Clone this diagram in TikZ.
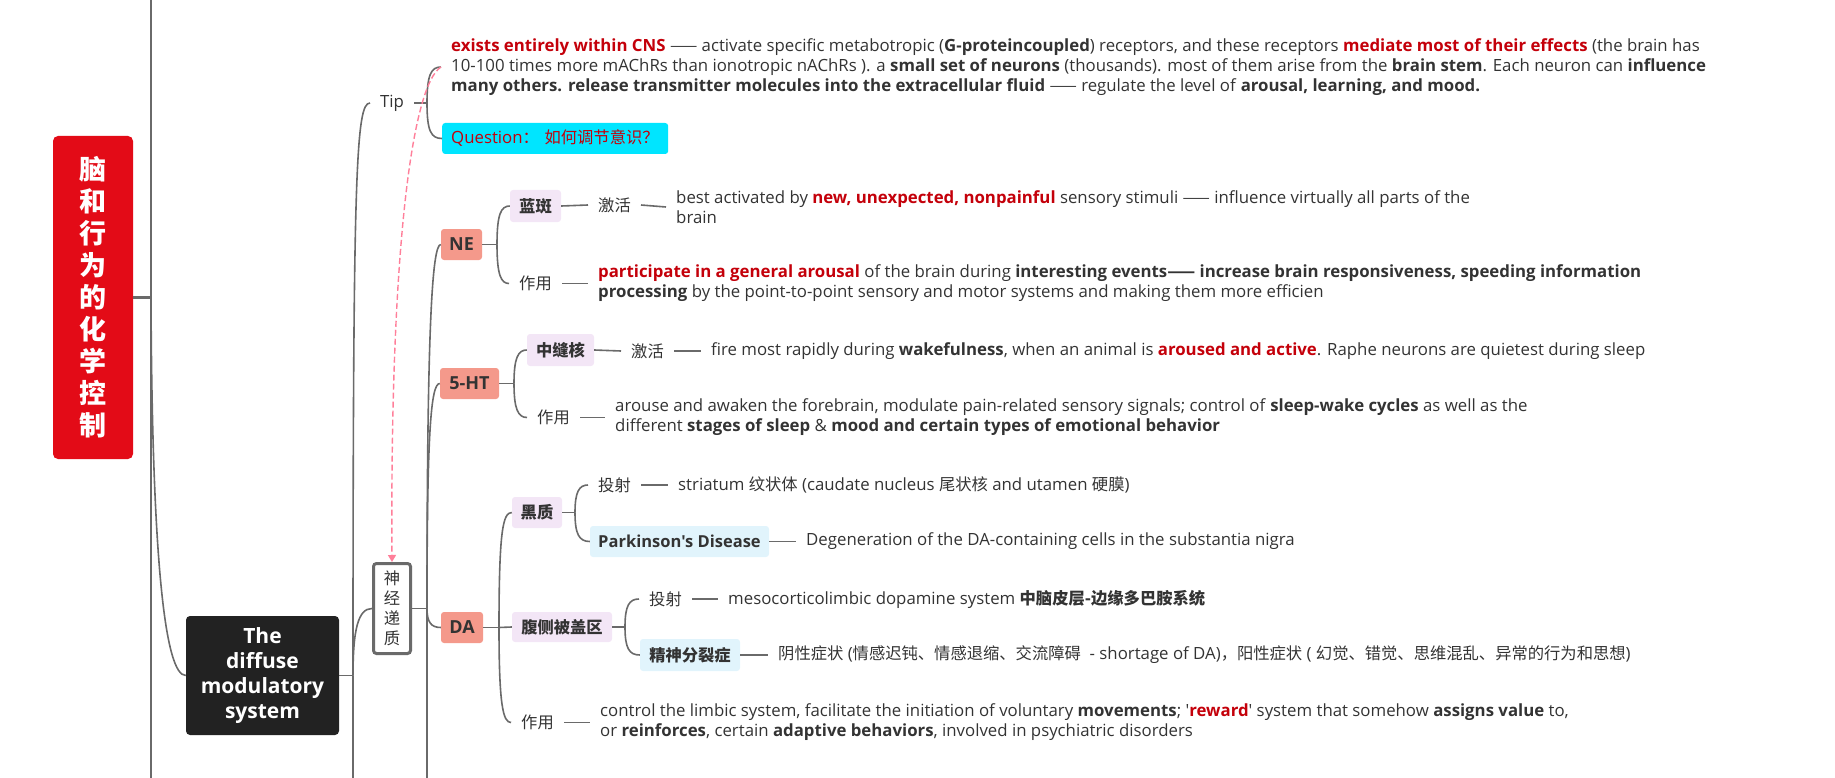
\documentclass[tikz,border=0pt]{standalone}
\usepackage{fontspec}
\newfontfamily\uifont{Open Sans}
\newfontfamily\cjk{Noto Sans CJK SC}
\usepackage{tikz}
\usetikzlibrary{arrows.meta}
\definecolor{linegray}{HTML}{6A6A6A}
\definecolor{textdark}{HTML}{333333}
\definecolor{markred}{HTML}{C4000A}
\definecolor{rootred}{HTML}{E30B17}
\definecolor{topicblack}{HTML}{222222}
\definecolor{salmon}{HTML}{F4998B}
\definecolor{lavender}{HTML}{F3E6F6}
\definecolor{paleblue}{HTML}{E1F4FC}
\definecolor{cyanbox}{HTML}{00E5FF}
\definecolor{pinkrel}{HTML}{FF7F9A}
\newcommand{\hlred}[1]{\textbf{\textcolor{markred}{#1}}}
\newcommand{\zh}[1]{{\cjk\fontsize{16.3}{20}\selectfont #1}}
\newcommand{\zhfont}{\cjk\fontsize{16.3}{20}\selectfont}

\tikzset{
  base/.style={inner sep=0pt, text=textdark, font=\uifont\fontsize{16.8}{20}\selectfont},
  lbl/.style={base, inner xsep=10pt, anchor=west},
  desc/.style={lbl, align=left},
  rootbox/.style={inner sep=0pt, fill=rootred, text=white, rounded corners=5pt, align=center,
    font=\cjk\bfseries\fontsize{27}{32}\selectfont},
  topicbox/.style={inner sep=0pt, fill=topicblack, text=white, rounded corners=4pt, align=center,
    font=\uifont\bfseries\fontsize{21}{25}\selectfont},
  ntbox/.style={base, draw=linegray, line width=3pt, rounded corners=3pt, align=center, fill=white},
  kindbox/.style={base, fill=salmon, rounded corners=3pt, minimum height=31pt,
    font=\uifont\bfseries\fontsize{18}{20}\selectfont},
  areabox/.style={base, fill=lavender, rounded corners=3pt, font=\cjk\bfseries\fontsize{16.3}{20}\selectfont},
  illbox/.style={base, fill=paleblue, rounded corners=3pt},
  link/.style={draw=linegray, line width=1.6pt},
  mainlink/.style={draw=linegray, line width=2.4pt},
  relline/.style={draw=pinkrel, line width=1.4pt, dash pattern=on 6pt off 3pt,
    -{Triangle[length=7pt,width=8pt]}}
}

\begin{document}
\begin{tikzpicture}[x=1pt, y=-1pt]
\useasboundingbox (0,0) rectangle (1835,778);

\node[rootbox, minimum width=80pt, minimum height=323pt] (root) at (93,297.5)
  {脑\\和\\行\\为\\的\\化\\学\\控\\制};
\node[topicbox, minimum width=153pt, minimum height=119pt] (topic) at (262.5,675.5)
  {The\\diffuse\\modulatory\\system};

\node[lbl] (tip) at (370,103) {Tip};
\node[desc] (tiptext) at (441,67) {\hlred{exists entirely within CNS} \zh{——} activate specific metabotropic (\textbf{G-proteincoupled}) receptors, and these receptors \hlred{mediate most of their effects} (the brain has\\
10-100 times more mAChRs than ionotropic nAChRs ). a \textbf{small set of neurons} (thousands). most of them arise from the \textbf{brain stem}. Each neuron can \textbf{influence}\\
\textbf{many others. release transmitter molecules into the extracellular fluid} \zh{——} regulate the level of \textbf{arousal, learning, and mood.}};
\node[base, fill=cyanbox, rounded corners=3pt, anchor=west, inner xsep=9pt, text width=208pt,
  minimum height=31pt, text=markred] (question) at (442,138.5) {Question\zh{：}\ \zh{如何调节意识？}};

\node[ntbox, minimum width=37pt, minimum height=90pt, font=\zhfont] (nt) at (392,608.5)
  {神\\经\\递\\质};

% NE
\node[kindbox, minimum width=41pt] (ne) at (461.5,244.5) {NE};
\node[areabox, minimum width=51pt, minimum height=32pt] (lc) at (535.5,206) {蓝斑};
\node[lbl, font=\zhfont] (lcact) at (588,205) {激活};
\node[desc] (lcdesc) at (666,207) {best activated by \hlred{new, unexpected, nonpainful} sensory stimuli \zh{——} influence virtually all parts of the\\brain};
\node[lbl, font=\zhfont] (neuse) at (509,283.5) {作用};
\node[desc] (neusedesc) at (588,283.5) {\hlred{participate in a general arousal} of the brain during \textbf{interesting events\zh{——} increase brain responsiveness, speeding information}\\
\textbf{processing} by the point-to-point sensory and motor systems and making them more efficien};

% 5-HT
\node[kindbox, minimum width=59pt] (ht) at (469.5,383.5) {5-HT};
\node[areabox, minimum width=67pt, minimum height=32pt] (raphe) at (560.5,350) {中缝核};
\node[lbl, font=\zhfont] (rapheact) at (621,351) {激活};
\node[desc] (raphedesc) at (701,351) {fire most rapidly during \textbf{wakefulness}, when an animal is \hlred{aroused and active}. Raphe neurons are quietest during sleep};
\node[lbl, font=\zhfont] (htuse) at (527,417.5) {作用};
\node[desc] (htusedesc) at (605,417.5) {arouse and awaken the forebrain, modulate pain-related sensory signals; control of \textbf{sleep-wake cycles} as well as the\\
different \textbf{stages of sleep} \& \textbf{mood and certain types of emotional behavior}};

% DA
\node[kindbox, minimum width=42pt] (da) at (462,627.5) {DA};
\node[areabox, minimum width=50pt, minimum height=31pt] (sn) at (537,512.5) {黑质};
\node[lbl, font=\zhfont] (snproj) at (588,485) {投射};
\node[desc] (sndesc) at (668,485) {striatum \zh{纹状体} (caudate nucleus \zh{尾状核} and utamen \zh{硬膜})};
\node[illbox, minimum width=179pt, minimum height=31pt, font=\uifont\bfseries\fontsize{16.5}{20}\selectfont] (pd) at (679.5,541.5) {Parkinson's Disease};
\node[desc] (pddesc) at (796,541.5) {Degeneration of the DA-containing cells in the substantia nigra};
\node[areabox, minimum width=100pt, minimum height=30pt] (vta) at (562,627) {腹侧被盖区};
\node[lbl, font=\zhfont] (vtaproj) at (639,599) {投射};
\node[desc] (vtadesc) at (718,599) {mesocorticolimbic dopamine system {\zhfont\bfseries 中脑皮层-边缘多巴胺系统}};
\node[illbox, minimum width=100pt, minimum height=32pt, font=\cjk\bfseries\fontsize{16.3}{20}\selectfont] (sz) at (690,655) {精神分裂症};
\node[desc] (szdesc) at (768,655) {\zh{阴性症状} (\zh{情感迟钝、情感退缩、交流障碍}\ \ - shortage of DA)\zh{，阳性症状} ( \zh{幻觉、错觉、思维混乱、异常的行为和思想})};
\node[lbl, font=\zhfont] (dause) at (511,722.5) {作用};
\node[desc] (dausedesc) at (590,722.5) {control the limbic system, facilitate the initiation of voluntary \textbf{movements}; '\hlred{reward}' system that somehow \textbf{assigns value} to,\\
or \textbf{reinforces}, certain \textbf{adaptive behaviors}, involved in psychiatric disorders};

% forks
\coordinate (rootfork) at (151,297.5);
\coordinate (rootup) at (151,-5);
\coordinate (rootdown) at (151,785);
\coordinate (topicfork) at (353,675.5);
\coordinate (topicdown) at (353,785);
\coordinate (tipfork) at (427,103);
\coordinate (ntfork) at (427,608.5);
\coordinate (ntdown) at (427,785);
\coordinate (nefork) at (497,244.5);
\coordinate (htfork) at (514,383.5);
\coordinate (dafork) at (499,627.5);
\coordinate (snfork) at (575,512.5);
\coordinate (vtafork) at (625,627);

\draw[mainlink] (root.east) -- (rootfork);
\draw[mainlink] (rootfork) -- (rootup);
\draw[mainlink] (rootfork) -- (rootdown);
\draw[link] (rootfork) .. controls (152,560) and (165,675.5) .. (topic.west);

\draw[link] (topic.east) -- (topicfork);
\draw[link] (topicfork) .. controls (353,170) and (356,103) .. (tip.west);
\draw[link] (topicfork) .. controls (353,630) and (358,608.5) .. (nt.west);
\draw[link] (topicfork) -- (topicdown);

\draw[link] (tip.east) -- (tipfork);
\draw[link] (tipfork) .. controls (427,75) and (431,67) .. (tiptext.west);
\draw[link] (tipfork) .. controls (427,131) and (431,138.5) .. (question.west);

\draw[link] (nt.east) -- (ntfork);
\draw[link] (ntfork) .. controls (427,330) and (432,244.5) .. (ne.west);
\draw[link] (ntfork) .. controls (427,430) and (431,383.5) .. (ht.west);
\draw[link] (ntfork) .. controls (427,622) and (431,627.5) .. (da.west);
\draw[link] (ntfork) -- (ntdown);

\draw[link] (ne.east) -- (nefork);
\draw[link] (nefork) .. controls (497,214) and (501,206) .. (lc.west);
\draw[link] (nefork) .. controls (497,275) and (501,283.5) .. (neuse.west);
\draw[link] (lc.east) -- (lcact.west);
\draw[link] (lcact.east) -- (lcdesc.west);
\draw[link] (neuse.east) -- (neusedesc.west);

\draw[link] (ht.east) -- (htfork);
\draw[link] (htfork) .. controls (514,358) and (518,350) .. (raphe.west);
\draw[link] (htfork) .. controls (514,409) and (518,417.5) .. (htuse.west);
\draw[link] (raphe.east) -- (rapheact.west);
\draw[link] (rapheact.east) -- (raphedesc.west);
\draw[link] (htuse.east) -- (htusedesc.west);

\draw[link] (da.east) -- (dafork);
\draw[link] (dafork) .. controls (499,530) and (503,512.5) .. (sn.west);
\draw[link] (dafork) -- (vta.west);
\draw[link] (dafork) .. controls (499,705) and (503,722.5) .. (dause.west);
\draw[link] (sn.east) -- (snfork);
\draw[link] (snfork) .. controls (575,492) and (579,485) .. (snproj.west);
\draw[link] (snfork) .. controls (575,534) and (579,541.5) .. (pd.west);
\draw[link] (snproj.east) -- (sndesc.west);
\draw[link] (pd.east) -- (pddesc.west);
\draw[link] (vta.east) -- (vtafork);
\draw[link] (vtafork) .. controls (625,606) and (629,599) .. (vtaproj.west);
\draw[link] (vtafork) .. controls (625,648) and (629,655) .. (sz.west);
\draw[link] (vtaproj.east) -- (vtadesc.west);
\draw[link] (sz.east) -- (szdesc.west);
\draw[link] (dause.east) -- (dausedesc.west);

\draw[relline] (tiptext.west) .. controls (412,85) and (390,250) .. (nt.north);
\end{tikzpicture}
\end{document}
